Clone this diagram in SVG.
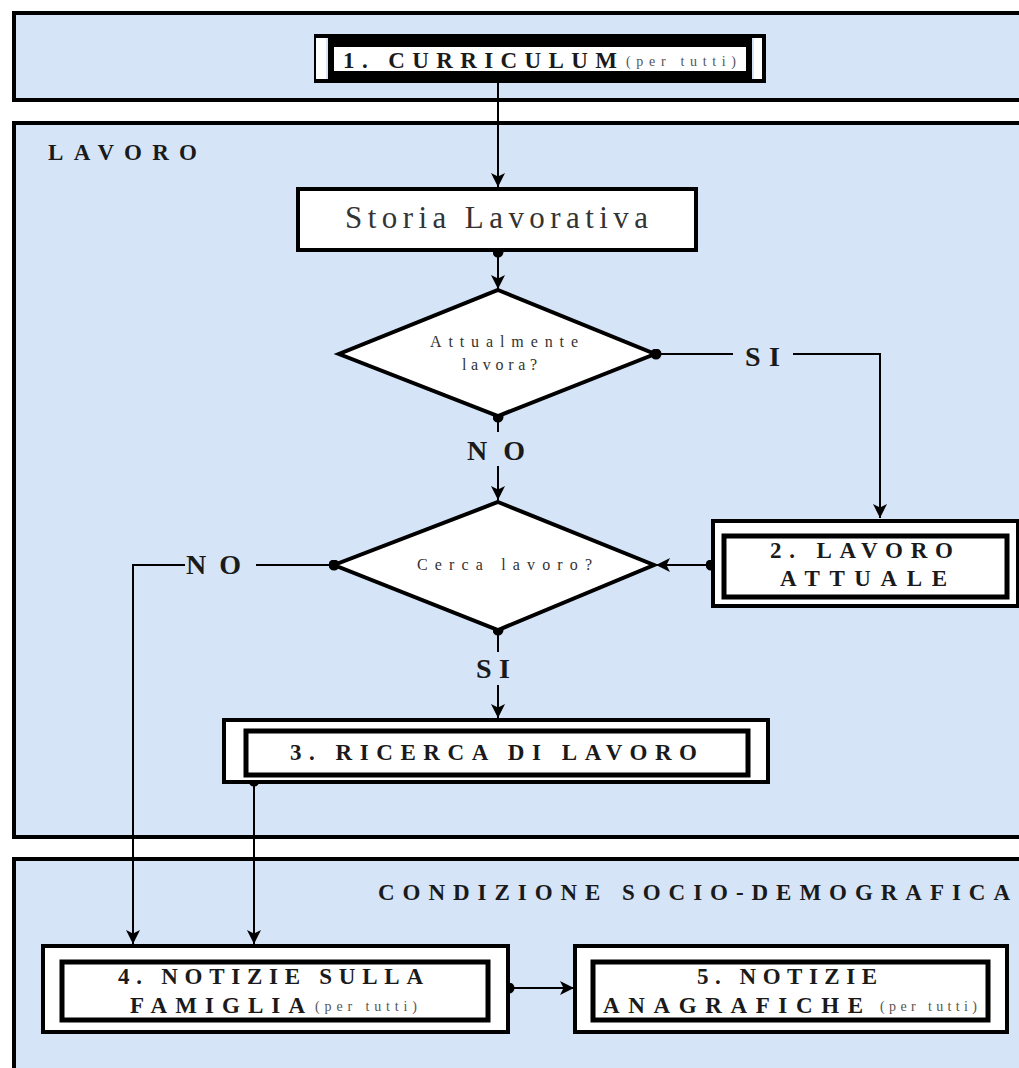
<svg xmlns="http://www.w3.org/2000/svg" width="1019" height="1068" viewBox="0 0 1019 1068">
<style>
.panel{fill:#d5e4f6;stroke:#000;stroke-width:4}
.box{fill:#fff;stroke:#000;stroke-width:4}
.inner{fill:#fff;stroke:#000;stroke-width:5}
.ttl{font-family:"Liberation Serif",serif;font-weight:bold;font-size:23px;fill:#1a1a1a}
.note{font-family:"Liberation Serif",serif;font-size:14px;fill:#555}
.q{font-family:"Liberation Serif",serif;font-size:16px;fill:#333}
.conn{fill:none;stroke:#000;stroke-width:2}
.lbl{font-family:"Liberation Serif",serif;font-weight:bold;font-size:28px;fill:#1a1a1a}
</style>
<defs>
<marker id="arr" markerWidth="14" markerHeight="14" viewBox="0 0 12 12" refX="12" refY="6" orient="auto" markerUnits="userSpaceOnUse"><path d="M0,0 L12,6 L0,12 L3,6 z" fill="#000"/></marker>
<marker id="dot" markerWidth="11" markerHeight="11" viewBox="0 0 10 10" refX="5" refY="5" markerUnits="userSpaceOnUse"><circle cx="5" cy="5" r="5" fill="#000"/></marker>
</defs>
<rect width="1019" height="1068" fill="#fff"/>
<g id="panel-curriculum"><rect x="14" y="13" width="1020" height="87" class="panel"/></g>
<g id="panel-lavoro"><rect x="14" y="123" width="1020" height="714" class="panel"/>
<text x="48" y="160" class="ttl" textLength="149" lengthAdjust="spacing">LAVORO</text></g>
<g id="panel-socio"><rect x="14" y="859" width="1020" height="230" class="panel"/>
<text x="378" y="900" class="ttl" textLength="632" lengthAdjust="spacing">CONDIZIONE SOCIO-DEMOGRAFICA</text></g>

<g id="connectors">
<path class="conn" d="M498,82 V187" marker-end="url(#arr)"/>
<path class="conn" d="M498,252 V289" marker-start="url(#dot)" marker-end="url(#arr)"/>
<path class="conn" d="M656,354 H733" marker-start="url(#dot)"/>
<path class="conn" d="M793,354 H880 V518" marker-end="url(#arr)"/>
<text x="745" y="366" class="lbl" textLength="35" lengthAdjust="spacing">SI</text>
<path class="conn" d="M498,417 V432" marker-start="url(#dot)"/>
<path class="conn" d="M498,466 V500" marker-end="url(#arr)"/>
<text x="467" y="460" class="lbl" textLength="58" lengthAdjust="spacing">NO</text>
<path class="conn" d="M711,565 H656" marker-start="url(#dot)" marker-end="url(#arr)"/>
<path class="conn" d="M334,565 H256" marker-start="url(#dot)"/>
<path class="conn" d="M185,565 H133 V944" marker-end="url(#arr)"/>
<text x="186" y="574" class="lbl" textLength="55" lengthAdjust="spacing">NO</text>
<path class="conn" d="M498,630 V652" marker-start="url(#dot)"/>
<path class="conn" d="M498,685 V718" marker-end="url(#arr)"/>
<text x="476" y="678" class="lbl" textLength="34" lengthAdjust="spacing">SI</text>
<path class="conn" d="M254,781 V944" marker-start="url(#dot)" marker-end="url(#arr)"/>
<path class="conn" d="M509,988 H574" marker-start="url(#dot)" marker-end="url(#arr)"/>
</g>

<g id="n1-curriculum">
<rect x="328" y="36" width="424" height="45" fill="#000"/>
<rect x="316" y="36" width="448" height="45" fill="none" stroke="#000" stroke-width="4"/>
<rect x="316" y="38" width="10" height="41" fill="#fff"/>
<rect x="754" y="38" width="8" height="41" fill="#fff"/>
<rect x="334" y="47" width="412" height="24" fill="#fff"/>
<text x="343" y="68" class="ttl" textLength="274" lengthAdjust="spacing">1. CURRICULUM</text>
<text x="626" y="66" class="note" textLength="110" lengthAdjust="spacing">(per tutti)</text>
</g>

<g id="n-storia">
<rect x="298" y="189" width="398" height="61" class="box"/>
<text x="345" y="228" font-family="Liberation Serif, serif" font-size="31" fill="#333" textLength="303" lengthAdjust="spacing">Storia Lavorativa</text>
</g>

<g id="d1-attualmente">
<polygon points="498,290 655,354 498,416 339,354" class="box"/>
<text x="430" y="347" class="q" textLength="148" lengthAdjust="spacing">Attualmente</text>
<text x="462" y="370" class="q" textLength="75" lengthAdjust="spacing">lavora?</text>
</g>

<g id="d2-cerca">
<polygon points="498,502 654,565 498,630 334,565" class="box"/>
<text x="417" y="570" class="q" textLength="175" lengthAdjust="spacing">Cerca lavoro?</text>
</g>

<g id="n2-lavoro-attuale">
<rect x="713" y="521" width="305" height="85" class="box"/>
<rect x="724" y="536" width="283" height="61" class="inner"/>
<text x="770" y="558" class="ttl" textLength="183" lengthAdjust="spacing">2. LAVORO</text>
<text x="780" y="586" class="ttl" textLength="167" lengthAdjust="spacing">ATTUALE</text>
</g>

<g id="n3-ricerca">
<rect x="224" y="720" width="544" height="62" class="box"/>
<rect x="246" y="731" width="502" height="44" class="inner"/>
<text x="290" y="760" class="ttl" textLength="407" lengthAdjust="spacing">3. RICERCA DI LAVORO</text>
</g>

<g id="n4-famiglia">
<rect x="43" y="946" width="465" height="86" class="box"/>
<rect x="62" y="962" width="426" height="58" class="inner"/>
<text x="118" y="984" class="ttl" textLength="305" lengthAdjust="spacing">4. NOTIZIE SULLA</text>
<text x="130" y="1013" class="ttl" textLength="175" lengthAdjust="spacing">FAMIGLIA</text>
<text x="315" y="1011" class="note" textLength="102" lengthAdjust="spacing">(per tutti)</text>
</g>

<g id="n5-anagrafiche">
<rect x="575" y="946" width="432" height="86" class="box"/>
<rect x="593" y="962" width="395" height="58" class="inner"/>
<text x="697" y="984" class="ttl" textLength="180" lengthAdjust="spacing">5. NOTIZIE</text>
<text x="603" y="1013" class="ttl" textLength="260" lengthAdjust="spacing">ANAGRAFICHE</text>
<text x="880" y="1011" class="note" textLength="97" lengthAdjust="spacing">(per tutti)</text>
</g>
</svg>
